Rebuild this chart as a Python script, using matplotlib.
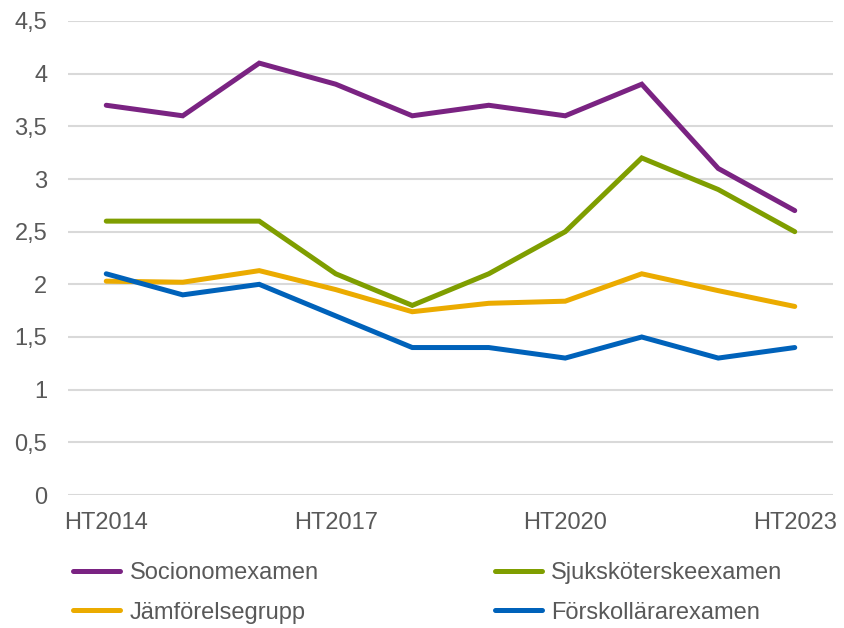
import matplotlib
matplotlib.use("Agg")
import matplotlib.pyplot as plt
from matplotlib.ticker import FixedLocator, FuncFormatter

categories = ["HT2014", "HT2015", "HT2016", "HT2017", "HT2018", "HT2019",
              "HT2020", "HT2021", "HT2022", "HT2023"]
socionom = [3.7, 3.6, 4.1, 3.9, 3.6, 3.7, 3.6, 3.9, 3.1, 2.7]
sjukskoterske = [2.6, 2.6, 2.6, 2.1, 1.8, 2.1, 2.5, 3.2, 2.9, 2.5]
jamforelse = [2.03, 2.02, 2.13, 1.95, 1.74, 1.82, 1.84, 2.1, 1.94, 1.79]
forskollarar = [2.1, 1.9, 2.0, 1.7, 1.4, 1.4, 1.3, 1.5, 1.3, 1.4]
yticks = [0, 0.5, 1, 1.5, 2, 2.5, 3, 3.5, 4, 4.5]

plt.rcParams['font.family'] = ['Liberation Sans', 'DejaVu Sans']
gray = '#595959'

fig = plt.figure(figsize=(8.45, 6.28), dpi=100)
ax = fig.add_axes([68/845, 1-495/628, (833-68)/845, (495-21)/628])

x = list(range(len(categories)))
series = [
    ("Socionomexamen", socionom, "#7A2382"),
    ("Sjuksköterskeexamen", sjukskoterske, "#7F9E00"),
    ("Jämförelsegrupp", jamforelse, "#EBAB00"),
    ("Förskollärarexamen", forskollarar, "#0062BA"),
]
lines = {}
for name, vals, col in series:
    ln, = ax.plot(x, vals, color=col, lw=3.6, solid_capstyle='round',
                  solid_joinstyle='miter', label=name)
    lines[name] = ln

ax.set_xlim(-0.5, len(categories) - 0.5)
ax.set_ylim(0, 4.5)
ax.yaxis.set_major_locator(FixedLocator(yticks))
ax.yaxis.set_major_formatter(FuncFormatter(lambda v, p: (f"{v:g}").replace('.', ',')))
ax.set_xticks([0, 3, 6, 9])
ax.set_xticklabels([categories[i] for i in [0, 3, 6, 9]])
ax.grid(axis='y', color='#D9D9D9', lw=1.5)
ax.set_axisbelow(True)
for s in ax.spines.values():
    s.set_visible(False)
ax.tick_params(length=0, labelsize=17, colors=gray)
ax.tick_params(axis='y', pad=15)
ax.tick_params(axis='x', pad=12)

order = ["Socionomexamen", "Jämförelsegrupp", "Sjuksköterskeexamen", "Förskollärarexamen"]
leg = fig.legend([lines[n] for n in order], order, ncol=2, loc='upper left',
                 bbox_to_anchor=(73/845, 1-562/628), frameon=False,
                 fontsize=17, handlelength=2.0, handletextpad=0.4,
                 columnspacing=7.45, labelspacing=0.75, borderaxespad=0, borderpad=0)
for t in leg.get_texts():
    t.set_color(gray)

fig.savefig("out.png", dpi=100)
